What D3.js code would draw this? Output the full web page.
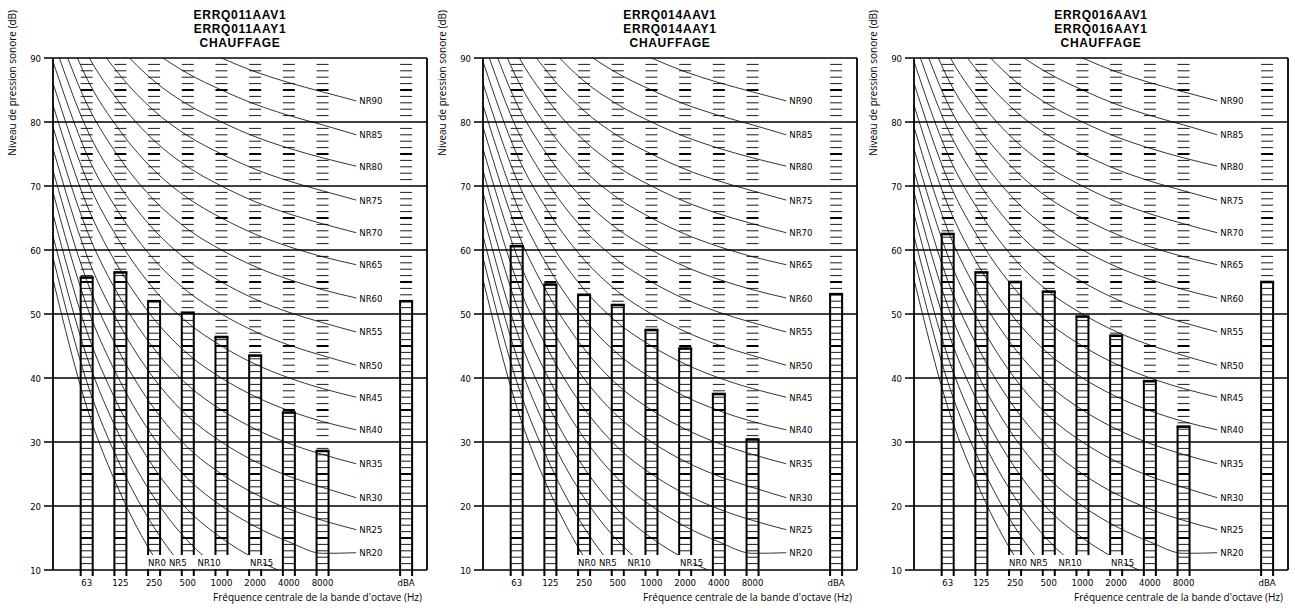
<!DOCTYPE html>
<html>
<head>
<meta charset="utf-8">
<script src="https://cdn.jsdelivr.net/npm/d3@7"></script>
<style>
  body { margin: 0; background: #fff; }
  svg { display: block; }
  .tick { font-family: "Liberation Sans Narrow", "DejaVu Sans Condensed", sans-serif; font-size: 9.5px; fill: #000; }
  .ttl { font-family: "Liberation Sans", Arial, sans-serif; font-weight: bold; font-size: 12px; letter-spacing: 0.7px; }
  .axttl { font-family: "Open Sans", sans-serif; font-size: 10px; }
</style>
</head>
<body>
<div id="chart"></div>
<script>
// octave bands shown as columns
var bandLabels = ["63", "125", "250", "500", "1000", "2000", "4000", "8000"];
// NR curve coefficients, 31.5 Hz .. 8000 Hz (L = a + b*NR)
var coefA = [55.4, 35.5, 22.0, 12.0, 4.8, 0, -3.5, -6.1, -8.0];
var coefB = [0.681, 0.790, 0.870, 0.930, 0.974, 1.0, 1.015, 1.025, 1.030];
var nrLow = [0, 5, 10, 15];
var nrHigh = [20, 25, 30, 35, 40, 45, 50, 55, 60, 65, 70, 75, 80, 85, 90];
// level where each right-hand label sits (dB)
var nrHighEnd = [12.7, 16.3, 21.3, 26.6, 31.9, 37.0, 42.0, 47.2, 52.5, 57.7, 62.7, 67.8, 73.1, 78.0, 83.3];
var yTicks = [10, 20, 30, 40, 50, 60, 70, 80, 90];

var titles1 = ["ERRQ011AAV1", "ERRQ011AAY1", "CHAUFFAGE"];
var titles2 = ["ERRQ014AAV1", "ERRQ014AAY1", "CHAUFFAGE"];
var titles3 = ["ERRQ016AAV1", "ERRQ016AAY1", "CHAUFFAGE"];
var levels1 = [55.7, 56.5, 52.0, 50.2, 46.4, 43.5, 34.6, 28.6];
var levels2 = [60.6, 54.6, 53.0, 51.4, 47.5, 44.6, 37.5, 30.4];
var levels3 = [62.5, 56.5, 55.0, 53.5, 49.6, 46.6, 39.5, 32.4];
var dba1 = 52.0, dba2 = 53.1, dba3 = 55.0;

var yLabel = "Niveau de pression sonore (dB)";
var xLabel = "Fréquence centrale de la bande d'octave (Hz)";

var W = 1295, H = 608;
var svg = d3.select('#chart').append('svg').attr('width', W).attr('height', H);

var x = d3.scaleLinear().domain([0, 11.1]).range([53, 427]);
var y = d3.scaleLinear().domain([10, 90]).range([570, 58]);
var dbaPos = 10.48;

function drawPanel(off, titles, levels, dba, idx) {
    var g = svg.append('g').attr('transform', 'translate(' + off + ',0)');

    g.append('clipPath').attr('id', 'clip' + idx)
        .append('rect').attr('x', x(0)).attr('y', y(90))
        .attr('width', x(11.1) - x(0)).attr('height', y(10) - y(90));

    // title, one text block with three lines
    var t = g.append('text').attr('class', 'ttl').attr('text-anchor', 'middle');
    t.selectAll('tspan').data(titles).enter().append('tspan')
        .attr('x', (x(0) + x(11.1)) / 2)
        .attr('y', function(d, i) { return 19 + i * 14; })
        .text(function(d) { return d; });

    // columns: 8 bands + dBA
    var cols = levels.map(function(v, i) { return { pos: i + 1, v: v, lab: bandLabels[i] }; });
    cols.push({ pos: dbaPos, v: dba, lab: 'dBA' });

    // 1 dB dashes in every column
    var dashLevels = d3.range(11, 90).filter(function(l) { return l % 10 !== 0; });
    cols.forEach(function(c) {
        var cx = x(c.pos);
        g.selectAll(null).data(dashLevels).enter().append('line')
            .attr('x1', cx - 6).attr('x2', cx + 6)
            .attr('y1', function(d) { return y(d); }).attr('y2', function(d) { return y(d); })
            .attr('stroke', '#000')
            .attr('stroke-width', function(d) { return d % 5 === 0 ? 2 : 0.9; });
    });

    // gridlines
    g.selectAll(null).data(yTicks).enter().append('line')
        .attr('x1', 44).attr('x2', x(11.1))
        .attr('y1', function(d) { return y(d); }).attr('y2', function(d) { return y(d); })
        .attr('stroke', '#000').attr('stroke-width', 1.6);
    g.append('line').attr('x1', x(0)).attr('x2', x(0)).attr('y1', y(90)).attr('y2', y(10))
        .attr('stroke', '#000').attr('stroke-width', 1.8);
    g.append('line').attr('x1', x(11.1)).attr('x2', x(11.1)).attr('y1', y(90)).attr('y2', y(10))
        .attr('stroke', '#000').attr('stroke-width', 1.8);

    // y tick labels
    g.selectAll(null).data(yTicks).enter().append('text')
        .attr('class', 'tick')
        .attr('x', 41).attr('y', function(d) { return y(d) + 3.5; })
        .attr('text-anchor', 'end')
        .text(function(d) { return d; });

    // bars
    cols.forEach(function(c) {
        var cx = x(c.pos);
        g.append('line').attr('x1', cx - 6).attr('x2', cx - 6)
            .attr('y1', y(c.v)).attr('y2', y(10) + 6)
            .attr('stroke', '#000').attr('stroke-width', 2);
        g.append('line').attr('x1', cx + 6).attr('x2', cx + 6)
            .attr('y1', y(c.v)).attr('y2', y(10) + 6)
            .attr('stroke', '#000').attr('stroke-width', 2);
        g.append('line').attr('x1', cx - 7).attr('x2', cx + 7)
            .attr('y1', y(c.v)).attr('y2', y(c.v))
            .attr('stroke', '#000').attr('stroke-width', 2.6);
        g.append('text').attr('class', 'tick')
            .attr('x', cx).attr('y', 585.5)
            .attr('text-anchor', 'middle')
            .text(c.lab);
    });

    // NR curves
    var line = d3.line()
        .x(function(d) { return x(d[0]); })
        .y(function(d) { return y(d[1]); })
        .curve(d3.curveMonotoneX);
    var curves = g.append('g').attr('clip-path', 'url(#clip' + idx + ')');
    nrLow.concat(nrHigh).forEach(function(nr) {
        var pts = coefA.map(function(a, i) { return [i, a + coefB[i] * nr]; });
        var hi = nrHigh.indexOf(nr);
        if (hi >= 0) pts.push([9, nrHighEnd[hi]]);
        else pts.push([9, -9.4 + 1.03 * nr]);
        curves.append('path').attr('d', line(pts))
            .attr('fill', 'none').attr('stroke', '#000').attr('stroke-width', 0.8);
    });

    // right-hand NR labels
    g.selectAll(null).data(nrHigh).enter().append('text')
        .attr('class', 'tick')
        .attr('x', x(9) + 3)
        .attr('y', function(d, i) { return y(nrHighEnd[i]) + 3.5; })
        .text(function(d) { return 'NR' + d; });

    // bottom NR labels on a white strip
    g.append('rect').attr('x', x(3) - 9).attr('y', 555)
        .attr('width', x(6) + 8 - (x(3) - 9)).attr('height', 14)
        .attr('fill', '#fff');
    var lowX = [x(3) - 6, x(3.5) - 2, x(4.35) - 2, x(5.85)];
    g.selectAll(null).data(nrLow).enter().append('text')
        .attr('class', 'tick')
        .attr('x', function(d, i) { return lowX[i]; })
        .attr('y', 566)
        .text(function(d) { return 'NR' + d; });

    // axis titles
    g.append('text').attr('class', 'axttl')
        .attr('transform', 'translate(16,10) rotate(-90)')
        .attr('text-anchor', 'end')
        .text(yLabel);
    g.append('text').attr('class', 'axttl')
        .attr('x', 422).attr('y', 601)
        .attr('text-anchor', 'end')
        .text(xLabel);
}

drawPanel(0, titles1, levels1, dba1, 1);
drawPanel(430, titles2, levels2, dba2, 2);
drawPanel(861, titles3, levels3, dba3, 3);
</script>
</body>
</html>
